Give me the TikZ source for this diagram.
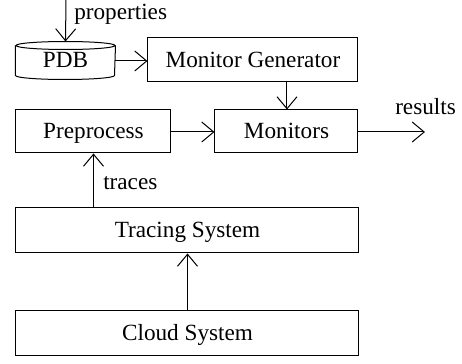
\documentclass[tikz,border=0pt]{standalone}
\usepackage{fontspec}
\setmainfont{Liberation Serif}
\usetikzlibrary{arrows.meta,calc}
\tikzset{
  box/.style={draw, line width=0.75pt, inner sep=0pt, text height=12pt, text depth=1.5pt, font=\fontsize{17.4}{20}\selectfont},
  lbl/.style={inner sep=0pt, font=\fontsize{17.4}{20}\selectfont},
  arr/.style={line width=0.75pt, -{Straight Barb[length=9pt,width=15pt,line width=0.75pt]}},
}
\begin{document}
\begin{tikzpicture}[x=0.75pt,y=-0.75pt]
\useasboundingbox (0,0) rectangle (462,364);
% PDB drum
\node[box, draw=none, minimum width=74.25pt, minimum height=21.75pt] (pdb) at (65.5,60.5) {PDB};
\draw[line width=0.75pt] (pdb.north west) -- (pdb.south west)
  arc[start angle=180, end angle=360, x radius=37.125pt, y radius=3pt] -- (pdb.north east);
\draw[line width=0.75pt] (pdb.north) ellipse [x radius=37.125pt, y radius=3pt];
% boxes
\node[box, minimum width=157.5pt, minimum height=33pt] (gen) at (253,60) {Monitor Generator};
\node[box, minimum width=107.25pt, minimum height=32.25pt] (mon) at (286.5,131.5) {Monitors};
\node[box, minimum width=116.25pt, minimum height=32.25pt] (pre) at (93.5,131.5) {Preprocess};
\node[box, minimum width=257.25pt, minimum height=33.75pt] (trc) at (187.5,230.5) {Tracing System};
\node[box, minimum width=257.25pt, minimum height=33.75pt] (cld) at (187.5,333.5) {Cloud System};
% free ends
\coordinate (ptop) at (66,0);
\coordinate (rend) at (425,132);
% labels
\node[lbl, anchor=base west] (lprop) at (74,19) {properties};
\node[lbl, anchor=base west] (lres) at (395,114) {results};
\node[lbl, anchor=base west] (ltr) at (103,190) {traces};
% connectors
\draw[arr] (ptop) -- ($(pdb.north)+(0,-4)$);
\draw[arr] (pdb.east |- 0,61) -- (gen.west |- 0,61);
\draw[arr] (gen.south -| 287,0) -- (mon.north -| 287,0);
\draw[arr] (pre.east |- 0,132) -- (mon.west |- 0,132);
\draw[arr] (mon.east |- 0,132) -- (rend);
\draw[arr] (trc.north -| pre.south) -- (pre.south);
\draw[arr] (cld.north) -- (trc.south);
\end{tikzpicture}
\end{document}
